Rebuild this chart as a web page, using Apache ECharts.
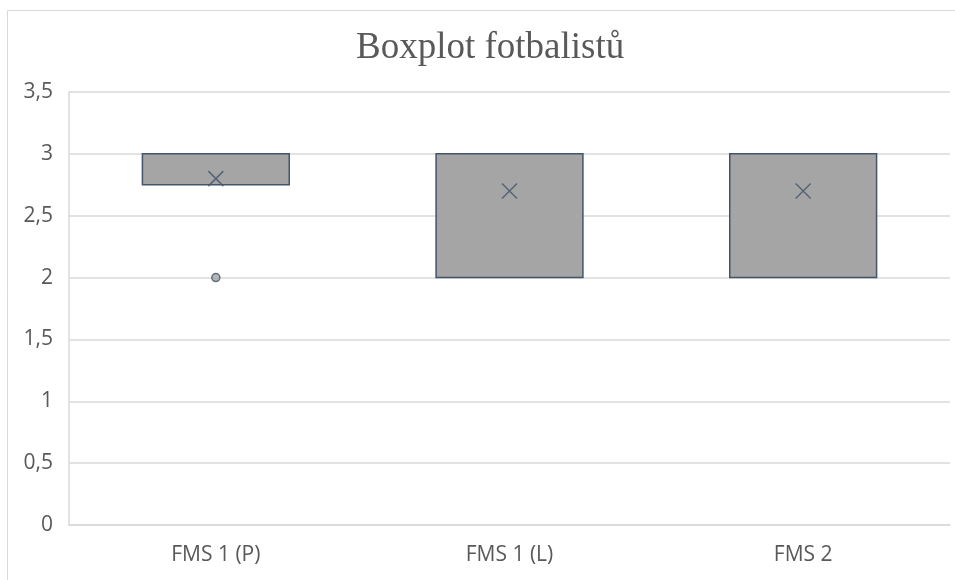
<!DOCTYPE html>
<html>
<head>
<meta charset="utf-8">
<script src="https://cdn.jsdelivr.net/npm/echarts@6/dist/echarts.min.js"></script>
<style>html,body{margin:0;padding:0;background:#fff}#c{width:955px;height:580px}</style>
</head>
<body>
<div id="c"></div>
<script>
const categories = ['FMS 1 (P)', 'FMS 1 (L)', 'FMS 2'];
// [min, Q1, median, Q3, max]
const boxValues = [
  [2.75, 2.75, 3, 3, 3],
  [2, 2, 3, 3, 3],
  [2, 2, 3, 3, 3]
];
const meanValues = [2.8, 2.7, 2.7];
const outliers = [[0, 2]];
const yTicks = [0, 0.5, 1, 1.5, 2, 2.5, 3, 3.5];

const chart = echarts.init(document.getElementById('c'), null, {renderer: 'canvas'});
const xPath = 'path://M0,0L10,10M10,0L0,10';
chart.setOption({
  animation: false,
  backgroundColor: '#fff',
  title: {
    text: 'Boxplot fotbalistů',
    left: 351,
    top: 25,
    textStyle: {fontFamily: 'Liberation Serif', fontSize: 37, fontWeight: 'normal', color: '#595959'}
  },
  graphic: [{
    type: 'rect', shape: {x: 7.5, y: 10.5, width: 960, height: 600},
    style: {fill: 'none', stroke: '#d9d9d9', lineWidth: 1}, silent: true
  }],
  grid: {left: 69, right: 5, top: 92, bottom: 55},
  xAxis: {
    type: 'category',
    data: categories,
    axisLine: {lineStyle: {color: '#d9d9d9', width: 1.5}},
    axisTick: {show: false},
    axisLabel: {fontFamily: 'Open Sans', fontSize: 21, color: '#595959', margin: 20},
    splitLine: {show: false}
  },
  yAxis: {
    type: 'value',
    min: 0, max: 3.5, interval: 0.5,
    axisLine: {show: true, lineStyle: {color: '#d9d9d9', width: 1.5}},
    axisTick: {show: false},
    axisLabel: {fontFamily: 'Open Sans', fontSize: 21, color: '#595959', margin: 16,
      formatter: v => String(v).replace('.', ',')},
    splitLine: {lineStyle: {color: '#d9d9d9', width: 1.5}}
  },
  series: [
    {
      type: 'boxplot',
      data: boxValues,
      boxWidth: ['50%', '50%'],
      itemStyle: {color: '#a5a5a5', borderColor: '#44546a', borderWidth: 1.5},
      emphasis: {disabled: true}
    },
    {
      type: 'scatter',
      data: meanValues.map((v, i) => [i, v]),
      symbol: xPath,
      symbolSize: 15,
      itemStyle: {color: 'none', borderColor: '#44546a', borderWidth: 1.5},
      z: 5
    },
    {
      type: 'scatter',
      data: outliers,
      symbol: 'circle',
      symbolSize: 8,
      itemStyle: {color: '#a5a5a5', borderColor: '#44546a', borderWidth: 1.5},
      z: 5
    }
  ]
});
</script>
</body>
</html>
